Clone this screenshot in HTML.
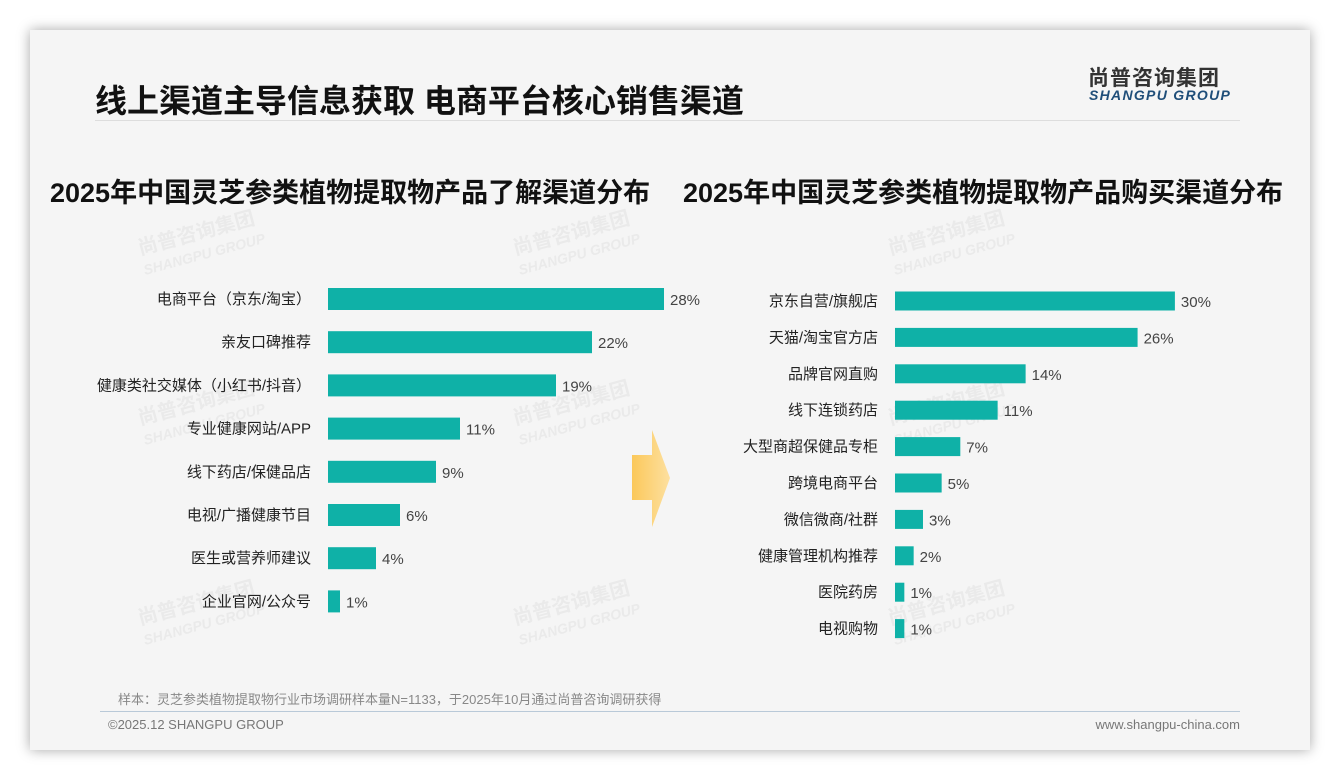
<!DOCTYPE html>
<html><head><meta charset="utf-8">
<style>
body{margin:0;width:1340px;height:780px;background:#fff;overflow:hidden;font-family:"Liberation Sans","Noto Sans CJK SC",sans-serif;}
#card{position:absolute;left:30px;top:30px;width:1280px;height:720px;background:#f5f5f5;box-shadow:0 0 12px rgba(0,0,0,0.35);}
.abs{position:absolute;white-space:nowrap;}
</style></head>
<body>
<div id="card"></div>
<div class="abs" style="left:95px;top:76px;font-size:32px;font-weight:bold;color:#111;">线上渠道主导信息获取 电商平台核心销售渠道</div>
<div class="abs" style="left:1088px;top:62px;font-size:21px;font-weight:bold;color:#333;letter-spacing:1px;">尚普咨询集团</div>
<div class="abs" style="left:1089px;top:87px;font-size:14px;font-weight:bold;font-style:italic;color:#1f4e79;letter-spacing:1.3px;">SHANGPU GROUP</div>
<div class="abs" style="left:95px;top:120px;width:1145px;height:1px;background:#ddd;"></div>
<div class="abs" style="left:50px;top:171px;font-size:27px;font-weight:bold;color:#111;">2025年中国灵芝参类植物提取物产品了解渠道分布</div>
<div class="abs" style="left:683px;top:171px;font-size:27px;font-weight:bold;color:#111;">2025年中国灵芝参类植物提取物产品购买渠道分布</div>
<svg class="abs" style="left:0;top:0" width="1340" height="780" id="chart">
<defs><linearGradient id="ag" x1="0" x2="1"><stop offset="0" stop-color="#fbc85a"/><stop offset="1" stop-color="#fde0a0"/></linearGradient></defs>
<polygon points="632,455 652,455 652,430 670,478 652,527 652,500 632,500" fill="url(#ag)"/>
</svg>
<div class="abs" style="left:118px;top:689px;font-size:13px;color:#888;">样本：灵芝参类植物提取物行业市场调研样本量N=1133，于2025年10月通过尚普咨询调研获得</div>
<div class="abs" style="left:100px;top:711px;width:1140px;height:1px;background:#b9c9d8;"></div>
<div class="abs" style="left:108px;top:717px;font-size:13px;color:#777;">©2025.12 SHANGPU GROUP</div>
<div class="abs" style="right:100px;top:717px;font-size:13px;color:#777;">www.shangpu-china.com</div>
<script>
const leftCats=["电商平台（京东/淘宝）","亲友口碑推荐","健康类社交媒体（小红书/抖音）","专业健康网站/APP","线下药店/保健品店","电视/广播健康节目","医生或营养师建议","企业官网/公众号"];
const leftVals=[28,22,19,11,9,6,4,1];
const rightCats=["京东自营/旗舰店","天猫/淘宝官方店","品牌官网直购","线下连锁药店","大型商超保健品专柜","跨境电商平台","微信微商/社群","健康管理机构推荐","医院药房","电视购物"];
const rightVals=[30,26,14,11,7,5,3,2,1,1];
const svg=document.getElementById('chart');
const NS='http://www.w3.org/2000/svg';
function wm(x,y){
  const t=document.createElementNS(NS,'text');
  
  
  t.setAttribute('x',x);t.setAttribute('y',y);
  t.setAttribute('transform','rotate(-15 '+x+' '+y+')');
  t.setAttribute('font-size','20');t.setAttribute('font-weight','bold');t.setAttribute('fill','#eaeaea');
  t.textContent='尚普咨询集团';svg.insertBefore(t,svg.firstChild);
  const e=document.createElementNS(NS,'text');
  
  
  e.setAttribute('x',x+5);e.setAttribute('y',y+20);
  e.setAttribute('transform','rotate(-15 '+(x+5)+' '+(y+20)+')');
  e.setAttribute('font-size','14');e.setAttribute('font-weight','bold');e.setAttribute('font-style','italic');e.setAttribute('fill','#eaeaea');
  e.textContent='SHANGPU GROUP';svg.insertBefore(e,svg.firstChild);
}
[[140,255],[515,255],[890,255],[140,425],[515,425],[890,425],[140,625],[515,625],[890,625]].forEach(p=>wm(p[0],p[1]));
function drawBars(cats,vals,x0,scale,y0,step,h,side){
  cats.forEach((c,i)=>{
    const cy=y0+i*step, w=vals[i]*scale;
    const r=document.createElementNS(NS,'rect');
    
    
    r.setAttribute('x',x0);r.setAttribute('y',cy-h/2);r.setAttribute('width',w);r.setAttribute('height',h);r.setAttribute('fill','#0fb1a7');
    svg.appendChild(r);
    const l=document.createElementNS(NS,'text');
    
    
    l.setAttribute('x',x0-17);l.setAttribute('y',cy+5);l.setAttribute('text-anchor','end');l.setAttribute('font-size','15');l.setAttribute('fill','#222');
    l.textContent=c;svg.appendChild(l);
    const v=document.createElementNS(NS,'text');
    
    
    v.setAttribute('x',x0+w+6);v.setAttribute('y',cy+6);v.setAttribute('font-size','15');v.setAttribute('fill','#444');
    v.textContent=vals[i]+'%';svg.appendChild(v);
  });
}
drawBars(leftCats,leftVals,328,12,299,43.2,22,'left');
drawBars(rightCats,rightVals,895,9.33,301,36.4,19,'right');
</script>
</body></html>
